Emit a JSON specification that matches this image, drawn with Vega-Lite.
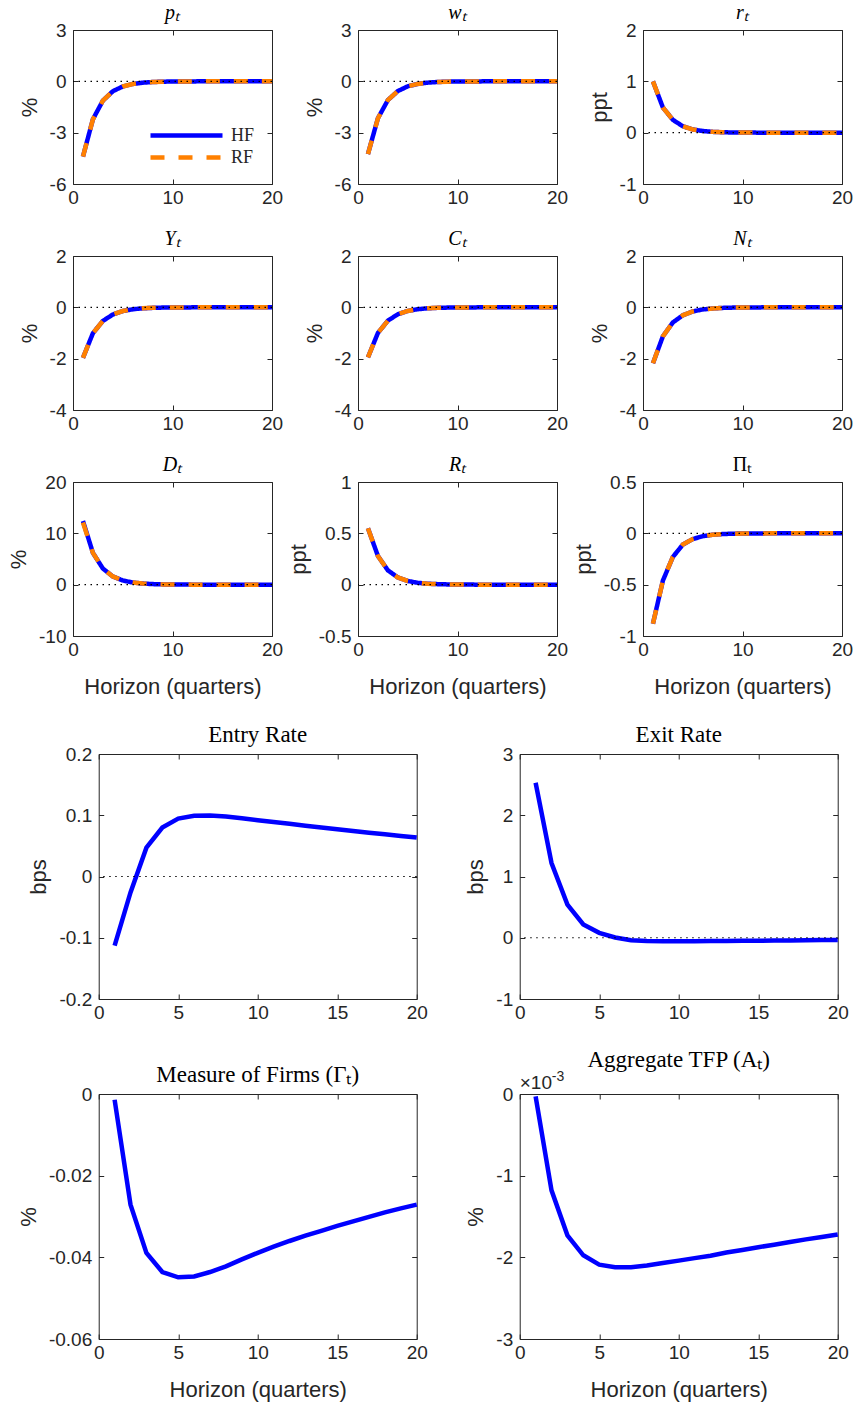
{
"$schema": "https://vega.github.io/schema/vega-lite/v6.json",
"background": "white",
"padding": {"left": 7, "top": 3, "right": 2, "bottom": 2},
"datasets": {"irf": [
{"v":"p","h":1,"HF":-4.4,"RF":-4.4},{"v":"p","h":2,"HF":-2.22,"RF":-2.22},{"v":"p","h":3,"HF":-1.13,"RF":-1.13},{"v":"p","h":4,"HF":-0.58,"RF":-0.58},{"v":"p","h":5,"HF":-0.3,"RF":-0.3},{"v":"p","h":6,"HF":-0.155,"RF":-0.155},{"v":"p","h":7,"HF":-0.08,"RF":-0.08},{"v":"p","h":8,"HF":-0.041,"RF":-0.041},{"v":"p","h":9,"HF":-0.021,"RF":-0.021},{"v":"p","h":10,"HF":-0.011,"RF":-0.011},{"v":"p","h":11,"HF":-0.006,"RF":-0.006},{"v":"p","h":12,"HF":-0.003,"RF":-0.003},{"v":"p","h":13,"HF":-0.0015,"RF":-0.0015},{"v":"p","h":14,"HF":-0.001,"RF":-0.001},{"v":"p","h":15,"HF":0,"RF":0},{"v":"p","h":16,"HF":0,"RF":0},{"v":"p","h":17,"HF":0,"RF":0},{"v":"p","h":18,"HF":0,"RF":0},{"v":"p","h":19,"HF":0,"RF":0},{"v":"p","h":20,"HF":0,"RF":0},
{"v":"w","h":1,"HF":-4.25,"RF":-4.25},{"v":"w","h":2,"HF":-2.16,"RF":-2.16},{"v":"w","h":3,"HF":-1.1,"RF":-1.1},{"v":"w","h":4,"HF":-0.57,"RF":-0.57},{"v":"w","h":5,"HF":-0.29,"RF":-0.29},{"v":"w","h":6,"HF":-0.15,"RF":-0.15},{"v":"w","h":7,"HF":-0.077,"RF":-0.077},{"v":"w","h":8,"HF":-0.04,"RF":-0.04},{"v":"w","h":9,"HF":-0.02,"RF":-0.02},{"v":"w","h":10,"HF":-0.01,"RF":-0.01},{"v":"w","h":11,"HF":-0.005,"RF":-0.005},{"v":"w","h":12,"HF":-0.003,"RF":-0.003},{"v":"w","h":13,"HF":-0.0015,"RF":-0.0015},{"v":"w","h":14,"HF":-0.001,"RF":-0.001},{"v":"w","h":15,"HF":0,"RF":0},{"v":"w","h":16,"HF":0,"RF":0},{"v":"w","h":17,"HF":0,"RF":0},{"v":"w","h":18,"HF":0,"RF":0},{"v":"w","h":19,"HF":0,"RF":0},{"v":"w","h":20,"HF":0,"RF":0},
{"v":"r","h":1,"HF":1.0,"RF":1.0},{"v":"r","h":2,"HF":0.49,"RF":0.49},{"v":"r","h":3,"HF":0.25,"RF":0.25},{"v":"r","h":4,"HF":0.125,"RF":0.125},{"v":"r","h":5,"HF":0.063,"RF":0.063},{"v":"r","h":6,"HF":0.032,"RF":0.032},{"v":"r","h":7,"HF":0.016,"RF":0.016},{"v":"r","h":8,"HF":0.008,"RF":0.008},{"v":"r","h":9,"HF":0.004,"RF":0.004},{"v":"r","h":10,"HF":0.002,"RF":0.002},{"v":"r","h":11,"HF":0.001,"RF":0.001},{"v":"r","h":12,"HF":0.0005,"RF":0.0005},{"v":"r","h":13,"HF":0,"RF":0},{"v":"r","h":14,"HF":0,"RF":0},{"v":"r","h":15,"HF":0,"RF":0},{"v":"r","h":16,"HF":0,"RF":0},{"v":"r","h":17,"HF":0,"RF":0},{"v":"r","h":18,"HF":0,"RF":0},{"v":"r","h":19,"HF":0,"RF":0},{"v":"r","h":20,"HF":0,"RF":0},
{"v":"Y","h":1,"HF":-1.97,"RF":-1.97},{"v":"Y","h":2,"HF":-1.01,"RF":-1.01},{"v":"Y","h":3,"HF":-0.53,"RF":-0.53},{"v":"Y","h":4,"HF":-0.28,"RF":-0.28},{"v":"Y","h":5,"HF":-0.145,"RF":-0.145},{"v":"Y","h":6,"HF":-0.075,"RF":-0.075},{"v":"Y","h":7,"HF":-0.039,"RF":-0.039},{"v":"Y","h":8,"HF":-0.02,"RF":-0.02},{"v":"Y","h":9,"HF":-0.01,"RF":-0.01},{"v":"Y","h":10,"HF":-0.005,"RF":-0.005},{"v":"Y","h":11,"HF":-0.003,"RF":-0.003},{"v":"Y","h":12,"HF":-0.0015,"RF":-0.0015},{"v":"Y","h":13,"HF":-0.001,"RF":-0.001},{"v":"Y","h":14,"HF":0,"RF":0},{"v":"Y","h":15,"HF":0,"RF":0},{"v":"Y","h":16,"HF":0,"RF":0},{"v":"Y","h":17,"HF":0,"RF":0},{"v":"Y","h":18,"HF":0,"RF":0},{"v":"Y","h":19,"HF":0,"RF":0},{"v":"Y","h":20,"HF":0,"RF":0},
{"v":"C","h":1,"HF":-1.95,"RF":-1.95},{"v":"C","h":2,"HF":-1.0,"RF":-1.0},{"v":"C","h":3,"HF":-0.52,"RF":-0.52},{"v":"C","h":4,"HF":-0.27,"RF":-0.27},{"v":"C","h":5,"HF":-0.14,"RF":-0.14},{"v":"C","h":6,"HF":-0.073,"RF":-0.073},{"v":"C","h":7,"HF":-0.038,"RF":-0.038},{"v":"C","h":8,"HF":-0.02,"RF":-0.02},{"v":"C","h":9,"HF":-0.01,"RF":-0.01},{"v":"C","h":10,"HF":-0.005,"RF":-0.005},{"v":"C","h":11,"HF":-0.003,"RF":-0.003},{"v":"C","h":12,"HF":-0.0015,"RF":-0.0015},{"v":"C","h":13,"HF":-0.001,"RF":-0.001},{"v":"C","h":14,"HF":0,"RF":0},{"v":"C","h":15,"HF":0,"RF":0},{"v":"C","h":16,"HF":0,"RF":0},{"v":"C","h":17,"HF":0,"RF":0},{"v":"C","h":18,"HF":0,"RF":0},{"v":"C","h":19,"HF":0,"RF":0},{"v":"C","h":20,"HF":0,"RF":0},
{"v":"N","h":1,"HF":-2.18,"RF":-2.18},{"v":"N","h":2,"HF":-1.13,"RF":-1.13},{"v":"N","h":3,"HF":-0.59,"RF":-0.59},{"v":"N","h":4,"HF":-0.31,"RF":-0.31},{"v":"N","h":5,"HF":-0.16,"RF":-0.16},{"v":"N","h":6,"HF":-0.083,"RF":-0.083},{"v":"N","h":7,"HF":-0.043,"RF":-0.043},{"v":"N","h":8,"HF":-0.022,"RF":-0.022},{"v":"N","h":9,"HF":-0.011,"RF":-0.011},{"v":"N","h":10,"HF":-0.006,"RF":-0.006},{"v":"N","h":11,"HF":-0.003,"RF":-0.003},{"v":"N","h":12,"HF":-0.0015,"RF":-0.0015},{"v":"N","h":13,"HF":-0.001,"RF":-0.001},{"v":"N","h":14,"HF":0,"RF":0},{"v":"N","h":15,"HF":0,"RF":0},{"v":"N","h":16,"HF":0,"RF":0},{"v":"N","h":17,"HF":0,"RF":0},{"v":"N","h":18,"HF":0,"RF":0},{"v":"N","h":19,"HF":0,"RF":0},{"v":"N","h":20,"HF":0,"RF":0},
{"v":"D","h":1,"HF":12.4,"RF":12.1},{"v":"D","h":2,"HF":6.2,"RF":6.2},{"v":"D","h":3,"HF":3.15,"RF":3.15},{"v":"D","h":4,"HF":1.6,"RF":1.6},{"v":"D","h":5,"HF":0.82,"RF":0.82},{"v":"D","h":6,"HF":0.42,"RF":0.42},{"v":"D","h":7,"HF":0.21,"RF":0.21},{"v":"D","h":8,"HF":0.11,"RF":0.11},{"v":"D","h":9,"HF":0.055,"RF":0.055},{"v":"D","h":10,"HF":0.028,"RF":0.028},{"v":"D","h":11,"HF":0.014,"RF":0.014},{"v":"D","h":12,"HF":0.007,"RF":0.007},{"v":"D","h":13,"HF":0.003,"RF":0.003},{"v":"D","h":14,"HF":0,"RF":0},{"v":"D","h":15,"HF":0,"RF":0},{"v":"D","h":16,"HF":0,"RF":0},{"v":"D","h":17,"HF":0,"RF":0},{"v":"D","h":18,"HF":0,"RF":0},{"v":"D","h":19,"HF":0,"RF":0},{"v":"D","h":20,"HF":0,"RF":0},
{"v":"R","h":1,"HF":0.55,"RF":0.55},{"v":"R","h":2,"HF":0.28,"RF":0.28},{"v":"R","h":3,"HF":0.14,"RF":0.14},{"v":"R","h":4,"HF":0.07,"RF":0.07},{"v":"R","h":5,"HF":0.036,"RF":0.036},{"v":"R","h":6,"HF":0.018,"RF":0.018},{"v":"R","h":7,"HF":0.009,"RF":0.009},{"v":"R","h":8,"HF":0.005,"RF":0.005},{"v":"R","h":9,"HF":0.0025,"RF":0.0025},{"v":"R","h":10,"HF":0.0012,"RF":0.0012},{"v":"R","h":11,"HF":0.0006,"RF":0.0006},{"v":"R","h":12,"HF":0.0003,"RF":0.0003},{"v":"R","h":13,"HF":0,"RF":0},{"v":"R","h":14,"HF":0,"RF":0},{"v":"R","h":15,"HF":0,"RF":0},{"v":"R","h":16,"HF":0,"RF":0},{"v":"R","h":17,"HF":0,"RF":0},{"v":"R","h":18,"HF":0,"RF":0},{"v":"R","h":19,"HF":0,"RF":0},{"v":"R","h":20,"HF":0,"RF":0},
{"v":"Pi","h":1,"HF":-0.88,"RF":-0.88},{"v":"Pi","h":2,"HF":-0.46,"RF":-0.46},{"v":"Pi","h":3,"HF":-0.23,"RF":-0.23},{"v":"Pi","h":4,"HF":-0.11,"RF":-0.11},{"v":"Pi","h":5,"HF":-0.056,"RF":-0.056},{"v":"Pi","h":6,"HF":-0.028,"RF":-0.028},{"v":"Pi","h":7,"HF":-0.014,"RF":-0.014},{"v":"Pi","h":8,"HF":-0.007,"RF":-0.007},{"v":"Pi","h":9,"HF":-0.0035,"RF":-0.0035},{"v":"Pi","h":10,"HF":-0.002,"RF":-0.002},{"v":"Pi","h":11,"HF":-0.001,"RF":-0.001},{"v":"Pi","h":12,"HF":-0.0005,"RF":-0.0005},{"v":"Pi","h":13,"HF":0,"RF":0},{"v":"Pi","h":14,"HF":0,"RF":0},{"v":"Pi","h":15,"HF":0,"RF":0},{"v":"Pi","h":16,"HF":0,"RF":0},{"v":"Pi","h":17,"HF":0,"RF":0},{"v":"Pi","h":18,"HF":0,"RF":0},{"v":"Pi","h":19,"HF":0,"RF":0},{"v":"Pi","h":20,"HF":0,"RF":0},
{"v":"entry","h":1,"HF":-0.113},{"v":"entry","h":2,"HF":-0.026},{"v":"entry","h":3,"HF":0.047},{"v":"entry","h":4,"HF":0.08},{"v":"entry","h":5,"HF":0.0946},{"v":"entry","h":6,"HF":0.099},{"v":"entry","h":7,"HF":0.0995},{"v":"entry","h":8,"HF":0.098},{"v":"entry","h":9,"HF":0.0952},{"v":"entry","h":10,"HF":0.092},{"v":"entry","h":11,"HF":0.089},{"v":"entry","h":12,"HF":0.086},{"v":"entry","h":13,"HF":0.083},{"v":"entry","h":14,"HF":0.0801},{"v":"entry","h":15,"HF":0.0773},{"v":"entry","h":16,"HF":0.0744},{"v":"entry","h":17,"HF":0.0716},{"v":"entry","h":18,"HF":0.0689},{"v":"entry","h":19,"HF":0.0662},{"v":"entry","h":20,"HF":0.0636},
{"v":"exit","h":1,"HF":2.53},{"v":"exit","h":2,"HF":1.22},{"v":"exit","h":3,"HF":0.54},{"v":"exit","h":4,"HF":0.216},{"v":"exit","h":5,"HF":0.08},{"v":"exit","h":6,"HF":0.005},{"v":"exit","h":7,"HF":-0.04},{"v":"exit","h":8,"HF":-0.055},{"v":"exit","h":9,"HF":-0.058},{"v":"exit","h":10,"HF":-0.058},{"v":"exit","h":11,"HF":-0.057},{"v":"exit","h":12,"HF":-0.055},{"v":"exit","h":13,"HF":-0.053},{"v":"exit","h":14,"HF":-0.051},{"v":"exit","h":15,"HF":-0.049},{"v":"exit","h":16,"HF":-0.046},{"v":"exit","h":17,"HF":-0.044},{"v":"exit","h":18,"HF":-0.041},{"v":"exit","h":19,"HF":-0.038},{"v":"exit","h":20,"HF":-0.035},
{"v":"firms","h":1,"HF":-0.0014},{"v":"firms","h":2,"HF":-0.0271},{"v":"firms","h":3,"HF":-0.0389},{"v":"firms","h":4,"HF":-0.0436},{"v":"firms","h":5,"HF":-0.0449},{"v":"firms","h":6,"HF":-0.0447},{"v":"firms","h":7,"HF":-0.0436},{"v":"firms","h":8,"HF":-0.0422},{"v":"firms","h":9,"HF":-0.0405},{"v":"firms","h":10,"HF":-0.0389},{"v":"firms","h":11,"HF":-0.0374},{"v":"firms","h":12,"HF":-0.036},{"v":"firms","h":13,"HF":-0.0347},{"v":"firms","h":14,"HF":-0.0335},{"v":"firms","h":15,"HF":-0.0323},{"v":"firms","h":16,"HF":-0.0312},{"v":"firms","h":17,"HF":-0.0301},{"v":"firms","h":18,"HF":-0.029},{"v":"firms","h":19,"HF":-0.028},{"v":"firms","h":20,"HF":-0.0271},
{"v":"tfp","h":1,"HF":-0.03},{"v":"tfp","h":2,"HF":-1.18},{"v":"tfp","h":3,"HF":-1.73},{"v":"tfp","h":4,"HF":-1.975},{"v":"tfp","h":5,"HF":-2.09},{"v":"tfp","h":6,"HF":-2.12},{"v":"tfp","h":7,"HF":-2.12},{"v":"tfp","h":8,"HF":-2.1},{"v":"tfp","h":9,"HF":-2.07},{"v":"tfp","h":10,"HF":-2.04},{"v":"tfp","h":11,"HF":-2.01},{"v":"tfp","h":12,"HF":-1.98},{"v":"tfp","h":13,"HF":-1.94},{"v":"tfp","h":14,"HF":-1.91},{"v":"tfp","h":15,"HF":-1.876},{"v":"tfp","h":16,"HF":-1.845},{"v":"tfp","h":17,"HF":-1.813},{"v":"tfp","h":18,"HF":-1.78},{"v":"tfp","h":19,"HF":-1.75},{"v":"tfp","h":20,"HF":-1.72}
]},
"spacing": 27,
"center": true,
"resolve": {"scale": {"color": "independent", "strokeDash": "independent"}, "legend": {"color": "independent", "strokeDash": "independent"}},
"vconcat": [
{
"columns": 3,
"spacing": {"row": 22, "column": 4},
"align": {"row": "each", "column": "each"},
"resolve": {"scale": {"color": "independent", "strokeDash": "independent"}, "legend": {"color": "independent", "strokeDash": "independent"}},
"concat": [
{"width": 199, "height": 154, "title": {"text": "pₜ"}, "data": {"name": "irf"},
 "transform": [{"filter": "datum.v === 'p'"}, {"fold": ["HF", "RF"], "as": ["s", "val"]}],
 "layer": [
  {"mark": {"type": "line", "strokeWidth": 4.5, "strokeCap": "butt"},
   "encoding": {
    "x": {"field": "h", "type": "quantitative", "scale": {"domain": [0, 20], "nice": false}, "axis": {"values": [0, 10, 20], "title": null}},
    "y": {"field": "val", "type": "quantitative", "scale": {"domain": [-6, 3], "nice": false}, "axis": {"values": [-6, -3, 0, 3], "title": "%"}},
    "color": {"field": "s", "type": "nominal", "scale": {"domain": ["HF", "RF"], "range": ["#0000ff", "#ff8000"]},
      "legend": {"orient": "bottom-right", "title": null, "symbolType": "M-1,0H6.2", "symbolSize": 400, "symbolStrokeWidth": 4.5, "labelFont": "Liberation Serif", "labelFontSize": 18, "labelColor": "#262626", "offset": 17, "padding": 0, "labelOffset": 58, "rowPadding": 0}},
    "strokeDash": {"field": "s", "type": "nominal", "scale": {"domain": ["HF", "RF"], "range": [[1, 0], [14, 14]]},
      "legend": {"orient": "bottom-right", "title": null, "symbolType": "M-1,0H6.2", "symbolSize": 400, "symbolStrokeWidth": 4.5, "labelFont": "Liberation Serif", "labelFontSize": 18, "labelColor": "#262626", "offset": 17, "padding": 0, "labelOffset": 58, "rowPadding": 0}}
   }},
  {"data": {"values": [{}]}, "mark": {"type": "rule", "color": "#000000", "strokeWidth": 1.2, "strokeDash": [1.5, 4.5]}, "encoding": {"y": {"datum": 0, "axis": null}}},
  {"mark": {"type": "line", "opacity": 0},
   "encoding": {
    "x": {"field": "h", "type": "quantitative", "scale": {"domain": [0, 20], "nice": false}, "axis": {"orient": "top", "values": [0, 10, 20], "labels": false, "title": null}},
    "y": {"field": "val", "type": "quantitative", "scale": {"domain": [-6, 3], "nice": false}, "axis": {"orient": "right", "values": [-6, -3, 0, 3], "labels": false, "title": null}}
   }}
 ],
 "resolve": {"axis": {"x": "independent", "y": "independent"}}
},
{"width": 199, "height": 154, "title": {"text": "wₜ"}, "data": {"name": "irf"},
 "transform": [{"filter": "datum.v === 'w'"}, {"fold": ["HF", "RF"], "as": ["s", "val"]}],
 "layer": [
  {"mark": {"type": "line", "strokeWidth": 4.5, "strokeCap": "butt"},
   "encoding": {
    "x": {"field": "h", "type": "quantitative", "scale": {"domain": [0, 20], "nice": false}, "axis": {"values": [0, 10, 20], "title": null}},
    "y": {"field": "val", "type": "quantitative", "scale": {"domain": [-6, 3], "nice": false}, "axis": {"values": [-6, -3, 0, 3], "title": "%"}},
    "color": {"field": "s", "type": "nominal", "scale": {"domain": ["HF", "RF"], "range": ["#0000ff", "#ff8000"]}, "legend": null},
    "strokeDash": {"field": "s", "type": "nominal", "scale": {"domain": ["HF", "RF"], "range": [[1, 0], [14, 14]]}, "legend": null}
   }},
  {"data": {"values": [{}]}, "mark": {"type": "rule", "color": "#000000", "strokeWidth": 1.2, "strokeDash": [1.5, 4.5]}, "encoding": {"y": {"datum": 0, "axis": null}}},
  {"mark": {"type": "line", "opacity": 0},
   "encoding": {
    "x": {"field": "h", "type": "quantitative", "scale": {"domain": [0, 20], "nice": false}, "axis": {"orient": "top", "values": [0, 10, 20], "labels": false, "title": null}},
    "y": {"field": "val", "type": "quantitative", "scale": {"domain": [-6, 3], "nice": false}, "axis": {"orient": "right", "values": [-6, -3, 0, 3], "labels": false, "title": null}}
   }}
 ],
 "resolve": {"axis": {"x": "independent", "y": "independent"}}
},
{"width": 199, "height": 154, "title": {"text": "rₜ"}, "data": {"name": "irf"},
 "transform": [{"filter": "datum.v === 'r'"}, {"fold": ["HF", "RF"], "as": ["s", "val"]}],
 "layer": [
  {"mark": {"type": "line", "strokeWidth": 4.5, "strokeCap": "butt"},
   "encoding": {
    "x": {"field": "h", "type": "quantitative", "scale": {"domain": [0, 20], "nice": false}, "axis": {"values": [0, 10, 20], "title": null}},
    "y": {"field": "val", "type": "quantitative", "scale": {"domain": [-1, 2], "nice": false}, "axis": {"values": [-1, 0, 1, 2], "title": "ppt"}},
    "color": {"field": "s", "type": "nominal", "scale": {"domain": ["HF", "RF"], "range": ["#0000ff", "#ff8000"]}, "legend": null},
    "strokeDash": {"field": "s", "type": "nominal", "scale": {"domain": ["HF", "RF"], "range": [[1, 0], [14, 14]]}, "legend": null}
   }},
  {"data": {"values": [{}]}, "mark": {"type": "rule", "color": "#000000", "strokeWidth": 1.2, "strokeDash": [1.5, 4.5]}, "encoding": {"y": {"datum": 0, "axis": null}}},
  {"mark": {"type": "line", "opacity": 0},
   "encoding": {
    "x": {"field": "h", "type": "quantitative", "scale": {"domain": [0, 20], "nice": false}, "axis": {"orient": "top", "values": [0, 10, 20], "labels": false, "title": null}},
    "y": {"field": "val", "type": "quantitative", "scale": {"domain": [-1, 2], "nice": false}, "axis": {"orient": "right", "values": [-1, 0, 1, 2], "labels": false, "title": null, "minExtent": 32}}
   }}
 ],
 "resolve": {"axis": {"x": "independent", "y": "independent"}}
},
{"width": 199, "height": 154, "title": {"text": "Yₜ"}, "data": {"name": "irf"},
 "transform": [{"filter": "datum.v === 'Y'"}, {"fold": ["HF", "RF"], "as": ["s", "val"]}],
 "layer": [
  {"mark": {"type": "line", "strokeWidth": 4.5, "strokeCap": "butt"},
   "encoding": {
    "x": {"field": "h", "type": "quantitative", "scale": {"domain": [0, 20], "nice": false}, "axis": {"values": [0, 10, 20], "title": null}},
    "y": {"field": "val", "type": "quantitative", "scale": {"domain": [-4, 2], "nice": false}, "axis": {"values": [-4, -2, 0, 2], "title": "%"}},
    "color": {"field": "s", "type": "nominal", "scale": {"domain": ["HF", "RF"], "range": ["#0000ff", "#ff8000"]}, "legend": null},
    "strokeDash": {"field": "s", "type": "nominal", "scale": {"domain": ["HF", "RF"], "range": [[1, 0], [14, 14]]}, "legend": null}
   }},
  {"data": {"values": [{}]}, "mark": {"type": "rule", "color": "#000000", "strokeWidth": 1.2, "strokeDash": [1.5, 4.5]}, "encoding": {"y": {"datum": 0, "axis": null}}},
  {"mark": {"type": "line", "opacity": 0},
   "encoding": {
    "x": {"field": "h", "type": "quantitative", "scale": {"domain": [0, 20], "nice": false}, "axis": {"orient": "top", "values": [0, 10, 20], "labels": false, "title": null}},
    "y": {"field": "val", "type": "quantitative", "scale": {"domain": [-4, 2], "nice": false}, "axis": {"orient": "right", "values": [-4, -2, 0, 2], "labels": false, "title": null}}
   }}
 ],
 "resolve": {"axis": {"x": "independent", "y": "independent"}}
},
{"width": 199, "height": 154, "title": {"text": "Cₜ"}, "data": {"name": "irf"},
 "transform": [{"filter": "datum.v === 'C'"}, {"fold": ["HF", "RF"], "as": ["s", "val"]}],
 "layer": [
  {"mark": {"type": "line", "strokeWidth": 4.5, "strokeCap": "butt"},
   "encoding": {
    "x": {"field": "h", "type": "quantitative", "scale": {"domain": [0, 20], "nice": false}, "axis": {"values": [0, 10, 20], "title": null}},
    "y": {"field": "val", "type": "quantitative", "scale": {"domain": [-4, 2], "nice": false}, "axis": {"values": [-4, -2, 0, 2], "title": "%"}},
    "color": {"field": "s", "type": "nominal", "scale": {"domain": ["HF", "RF"], "range": ["#0000ff", "#ff8000"]}, "legend": null},
    "strokeDash": {"field": "s", "type": "nominal", "scale": {"domain": ["HF", "RF"], "range": [[1, 0], [14, 14]]}, "legend": null}
   }},
  {"data": {"values": [{}]}, "mark": {"type": "rule", "color": "#000000", "strokeWidth": 1.2, "strokeDash": [1.5, 4.5]}, "encoding": {"y": {"datum": 0, "axis": null}}},
  {"mark": {"type": "line", "opacity": 0},
   "encoding": {
    "x": {"field": "h", "type": "quantitative", "scale": {"domain": [0, 20], "nice": false}, "axis": {"orient": "top", "values": [0, 10, 20], "labels": false, "title": null}},
    "y": {"field": "val", "type": "quantitative", "scale": {"domain": [-4, 2], "nice": false}, "axis": {"orient": "right", "values": [-4, -2, 0, 2], "labels": false, "title": null}}
   }}
 ],
 "resolve": {"axis": {"x": "independent", "y": "independent"}}
},
{"width": 199, "height": 154, "title": {"text": "Nₜ"}, "data": {"name": "irf"},
 "transform": [{"filter": "datum.v === 'N'"}, {"fold": ["HF", "RF"], "as": ["s", "val"]}],
 "layer": [
  {"mark": {"type": "line", "strokeWidth": 4.5, "strokeCap": "butt"},
   "encoding": {
    "x": {"field": "h", "type": "quantitative", "scale": {"domain": [0, 20], "nice": false}, "axis": {"values": [0, 10, 20], "title": null}},
    "y": {"field": "val", "type": "quantitative", "scale": {"domain": [-4, 2], "nice": false}, "axis": {"values": [-4, -2, 0, 2], "title": "%"}},
    "color": {"field": "s", "type": "nominal", "scale": {"domain": ["HF", "RF"], "range": ["#0000ff", "#ff8000"]}, "legend": null},
    "strokeDash": {"field": "s", "type": "nominal", "scale": {"domain": ["HF", "RF"], "range": [[1, 0], [14, 14]]}, "legend": null}
   }},
  {"data": {"values": [{}]}, "mark": {"type": "rule", "color": "#000000", "strokeWidth": 1.2, "strokeDash": [1.5, 4.5]}, "encoding": {"y": {"datum": 0, "axis": null}}},
  {"mark": {"type": "line", "opacity": 0},
   "encoding": {
    "x": {"field": "h", "type": "quantitative", "scale": {"domain": [0, 20], "nice": false}, "axis": {"orient": "top", "values": [0, 10, 20], "labels": false, "title": null}},
    "y": {"field": "val", "type": "quantitative", "scale": {"domain": [-4, 2], "nice": false}, "axis": {"orient": "right", "values": [-4, -2, 0, 2], "labels": false, "title": null, "minExtent": 32}}
   }}
 ],
 "resolve": {"axis": {"x": "independent", "y": "independent"}}
},
{"width": 199, "height": 154, "title": {"text": "Dₜ"}, "data": {"name": "irf"},
 "transform": [{"filter": "datum.v === 'D'"}, {"fold": ["HF", "RF"], "as": ["s", "val"]}],
 "layer": [
  {"mark": {"type": "line", "strokeWidth": 4.5, "strokeCap": "butt"},
   "encoding": {
    "x": {"field": "h", "type": "quantitative", "scale": {"domain": [0, 20], "nice": false}, "axis": {"values": [0, 10, 20], "title": "Horizon (quarters)"}},
    "y": {"field": "val", "type": "quantitative", "scale": {"domain": [-10, 20], "nice": false}, "axis": {"values": [-10, 0, 10, 20], "title": "%"}},
    "color": {"field": "s", "type": "nominal", "scale": {"domain": ["HF", "RF"], "range": ["#0000ff", "#ff8000"]}, "legend": null},
    "strokeDash": {"field": "s", "type": "nominal", "scale": {"domain": ["HF", "RF"], "range": [[1, 0], [14, 14]]}, "legend": null}
   }},
  {"data": {"values": [{}]}, "mark": {"type": "rule", "color": "#000000", "strokeWidth": 1.2, "strokeDash": [1.5, 4.5]}, "encoding": {"y": {"datum": 0, "axis": null}}},
  {"mark": {"type": "line", "opacity": 0},
   "encoding": {
    "x": {"field": "h", "type": "quantitative", "scale": {"domain": [0, 20], "nice": false}, "axis": {"orient": "top", "values": [0, 10, 20], "labels": false, "title": null}},
    "y": {"field": "val", "type": "quantitative", "scale": {"domain": [-10, 20], "nice": false}, "axis": {"orient": "right", "values": [-10, 0, 10, 20], "labels": false, "title": null}}
   }}
 ],
 "resolve": {"axis": {"x": "independent", "y": "independent"}}
},
{"width": 199, "height": 154, "title": {"text": "Rₜ"}, "data": {"name": "irf"},
 "transform": [{"filter": "datum.v === 'R'"}, {"fold": ["HF", "RF"], "as": ["s", "val"]}],
 "layer": [
  {"mark": {"type": "line", "strokeWidth": 4.5, "strokeCap": "butt"},
   "encoding": {
    "x": {"field": "h", "type": "quantitative", "scale": {"domain": [0, 20], "nice": false}, "axis": {"values": [0, 10, 20], "title": "Horizon (quarters)"}},
    "y": {"field": "val", "type": "quantitative", "scale": {"domain": [-0.5, 1], "nice": false}, "axis": {"values": [-0.5, 0, 0.5, 1], "title": "ppt"}},
    "color": {"field": "s", "type": "nominal", "scale": {"domain": ["HF", "RF"], "range": ["#0000ff", "#ff8000"]}, "legend": null},
    "strokeDash": {"field": "s", "type": "nominal", "scale": {"domain": ["HF", "RF"], "range": [[1, 0], [14, 14]]}, "legend": null}
   }},
  {"data": {"values": [{}]}, "mark": {"type": "rule", "color": "#000000", "strokeWidth": 1.2, "strokeDash": [1.5, 4.5]}, "encoding": {"y": {"datum": 0, "axis": null}}},
  {"mark": {"type": "line", "opacity": 0},
   "encoding": {
    "x": {"field": "h", "type": "quantitative", "scale": {"domain": [0, 20], "nice": false}, "axis": {"orient": "top", "values": [0, 10, 20], "labels": false, "title": null}},
    "y": {"field": "val", "type": "quantitative", "scale": {"domain": [-0.5, 1], "nice": false}, "axis": {"orient": "right", "values": [-0.5, 0, 0.5, 1], "labels": false, "title": null}}
   }}
 ],
 "resolve": {"axis": {"x": "independent", "y": "independent"}}
},
{"width": 199, "height": 154, "title": {"text": "Πₜ", "fontStyle": "normal"}, "data": {"name": "irf"},
 "transform": [{"filter": "datum.v === 'Pi'"}, {"fold": ["HF", "RF"], "as": ["s", "val"]}],
 "layer": [
  {"mark": {"type": "line", "strokeWidth": 4.5, "strokeCap": "butt"},
   "encoding": {
    "x": {"field": "h", "type": "quantitative", "scale": {"domain": [0, 20], "nice": false}, "axis": {"values": [0, 10, 20], "title": "Horizon (quarters)"}},
    "y": {"field": "val", "type": "quantitative", "scale": {"domain": [-1, 0.5], "nice": false}, "axis": {"values": [-1, -0.5, 0, 0.5], "title": "ppt"}},
    "color": {"field": "s", "type": "nominal", "scale": {"domain": ["HF", "RF"], "range": ["#0000ff", "#ff8000"]}, "legend": null},
    "strokeDash": {"field": "s", "type": "nominal", "scale": {"domain": ["HF", "RF"], "range": [[1, 0], [14, 14]]}, "legend": null}
   }},
  {"data": {"values": [{}]}, "mark": {"type": "rule", "color": "#000000", "strokeWidth": 1.2, "strokeDash": [1.5, 4.5]}, "encoding": {"y": {"datum": 0, "axis": null}}},
  {"mark": {"type": "line", "opacity": 0},
   "encoding": {
    "x": {"field": "h", "type": "quantitative", "scale": {"domain": [0, 20], "nice": false}, "axis": {"orient": "top", "values": [0, 10, 20], "labels": false, "title": null}},
    "y": {"field": "val", "type": "quantitative", "scale": {"domain": [-1, 0.5], "nice": false}, "axis": {"orient": "right", "values": [-1, -0.5, 0, 0.5], "labels": false, "title": null, "minExtent": 32}}
   }}
 ],
 "resolve": {"axis": {"x": "independent", "y": "independent"}}
}
]
},
{
"columns": 2,
"spacing": {"row": 27, "column": 37},
"align": {"row": "each", "column": "each"},
"concat": [
{"width": 318, "height": 245, "title": {"text": "Entry Rate", "fontStyle": "normal", "fontSize": 23}, "data": {"name": "irf"},
 "transform": [{"filter": "datum.v === 'entry'"}],
 "layer": [
  {"mark": {"type": "line", "color": "#0000ff", "strokeWidth": 4.5},
   "encoding": {
    "x": {"field": "h", "type": "quantitative", "scale": {"domain": [0, 20], "nice": false}, "axis": {"values": [0, 5, 10, 15, 20], "title": null}},
    "y": {"field": "HF", "type": "quantitative", "scale": {"domain": [-0.2, 0.2], "nice": false}, "axis": {"values": [-0.2, -0.1, 0, 0.1, 0.2], "title": "bps"}}
   }},
  {"data": {"values": [{}]}, "mark": {"type": "rule", "color": "#000000", "strokeWidth": 1.2, "strokeDash": [1.5, 4.5]}, "encoding": {"y": {"datum": 0, "axis": null}}},
  {"mark": {"type": "line", "opacity": 0},
   "encoding": {
    "x": {"field": "h", "type": "quantitative", "scale": {"domain": [0, 20], "nice": false}, "axis": {"orient": "top", "values": [0, 5, 10, 15, 20], "labels": false, "title": null}},
    "y": {"field": "HF", "type": "quantitative", "scale": {"domain": [-0.2, 0.2], "nice": false}, "axis": {"orient": "right", "values": [-0.2, -0.1, 0, 0.1, 0.2], "labels": false, "title": null}}
   }}
 ],
 "resolve": {"axis": {"x": "independent", "y": "independent"}}
},
{"width": 318, "height": 245, "title": {"text": "Exit Rate", "fontStyle": "normal", "fontSize": 23}, "data": {"name": "irf"},
 "transform": [{"filter": "datum.v === 'exit'"}],
 "layer": [
  {"mark": {"type": "line", "color": "#0000ff", "strokeWidth": 4.5},
   "encoding": {
    "x": {"field": "h", "type": "quantitative", "scale": {"domain": [0, 20], "nice": false}, "axis": {"values": [0, 5, 10, 15, 20], "title": null}},
    "y": {"field": "HF", "type": "quantitative", "scale": {"domain": [-1, 3], "nice": false}, "axis": {"values": [-1, 0, 1, 2, 3], "title": "bps"}}
   }},
  {"data": {"values": [{}]}, "mark": {"type": "rule", "color": "#000000", "strokeWidth": 1.2, "strokeDash": [1.5, 4.5]}, "encoding": {"y": {"datum": 0, "axis": null}}},
  {"mark": {"type": "line", "opacity": 0},
   "encoding": {
    "x": {"field": "h", "type": "quantitative", "scale": {"domain": [0, 20], "nice": false}, "axis": {"orient": "top", "values": [0, 5, 10, 15, 20], "labels": false, "title": null}},
    "y": {"field": "HF", "type": "quantitative", "scale": {"domain": [-1, 3], "nice": false}, "axis": {"orient": "right", "values": [-1, 0, 1, 2, 3], "labels": false, "title": null}}
   }}
 ],
 "resolve": {"axis": {"x": "independent", "y": "independent"}}
},
{"width": 318, "height": 245, "title": {"text": "Measure of Firms (Γₜ)", "fontStyle": "normal", "fontSize": 23}, "data": {"name": "irf"},
 "transform": [{"filter": "datum.v === 'firms'"}],
 "layer": [
  {"mark": {"type": "line", "color": "#0000ff", "strokeWidth": 4.5},
   "encoding": {
    "x": {"field": "h", "type": "quantitative", "scale": {"domain": [0, 20], "nice": false}, "axis": {"values": [0, 5, 10, 15, 20], "title": "Horizon (quarters)"}},
    "y": {"field": "HF", "type": "quantitative", "scale": {"domain": [-0.06, 0], "nice": false}, "axis": {"values": [-0.06, -0.04, -0.02, 0], "title": "%"}}
   }},
  {"mark": {"type": "line", "opacity": 0},
   "encoding": {
    "x": {"field": "h", "type": "quantitative", "scale": {"domain": [0, 20], "nice": false}, "axis": {"orient": "top", "values": [0, 5, 10, 15, 20], "labels": false, "title": null}},
    "y": {"field": "HF", "type": "quantitative", "scale": {"domain": [-0.06, 0], "nice": false}, "axis": {"orient": "right", "values": [-0.06, -0.04, -0.02, 0], "labels": false, "title": null}}
   }}
 ],
 "resolve": {"axis": {"x": "independent", "y": "independent"}}
},
{"width": 318, "height": 245, "title": {"text": "Aggregate TFP (Aₜ)", "fontStyle": "normal", "fontSize": 23}, "data": {"name": "irf"},
 "transform": [{"filter": "datum.v === 'tfp'"}],
 "layer": [
  {"mark": {"type": "line", "color": "#0000ff", "strokeWidth": 4.5},
   "encoding": {
    "x": {"field": "h", "type": "quantitative", "scale": {"domain": [0, 20], "nice": false}, "axis": {"values": [0, 5, 10, 15, 20], "title": "Horizon (quarters)"}},
    "y": {"field": "HF", "type": "quantitative", "scale": {"domain": [-3, 0], "nice": false}, "axis": {"values": [-3, -2, -1, 0], "title": "%"}}
   }},
  {"mark": {"type": "line", "opacity": 0},
   "encoding": {
    "x": {"field": "h", "type": "quantitative", "scale": {"domain": [0, 20], "nice": false}, "axis": {"orient": "top", "values": [0, 5, 10, 15, 20], "labels": false, "title": null}},
    "y": {"field": "HF", "type": "quantitative", "scale": {"domain": [-3, 0], "nice": false}, "axis": {"orient": "right", "values": [-3, -2, -1, 0], "labels": false, "title": null}}
   }},
  {"data": {"values": [{}]}, "mark": {"type": "text", "align": "left", "baseline": "alphabetic", "dy": -5, "font": "Liberation Sans", "fontSize": 19, "color": "#262626"},
   "encoding": {"x": {"datum": 0, "axis": null}, "y": {"datum": 0, "axis": null}, "text": {"value": "×10"}}},
  {"data": {"values": [{}]}, "mark": {"type": "text", "align": "left", "baseline": "alphabetic", "dx": 32, "dy": -13, "font": "Liberation Sans", "fontSize": 14, "color": "#262626"},
   "encoding": {"x": {"datum": 0, "axis": null}, "y": {"datum": 0, "axis": null}, "text": {"value": "-3"}}}
 ],
 "resolve": {"axis": {"x": "independent", "y": "independent"}}
}
]
}
],
"config": {
 "view": {"stroke": null},
 "font": "Liberation Sans",
 "axis": {"grid": false, "domainColor": "#262626", "domainWidth": 1, "tickColor": "#262626", "tickSize": -5, "tickWidth": 1,
   "labelFont": "Liberation Sans", "labelFontSize": 19, "labelColor": "#262626", "labelPadding": 12, "labelFlush": false, "labelOverlap": false,
   "labelExpr": "'' + datum.value",
   "titleFont": "Liberation Sans", "titleFontSize": 22, "titleFontWeight": "normal", "titleColor": "#262626", "titlePadding": 8},
 "axisX": {"labelPadding": 9, "titlePadding": 17},
 "title": {"font": "Liberation Serif", "fontSize": 20, "fontWeight": "normal", "fontStyle": "italic", "color": "#000000", "offset": -2, "baseline": "alphabetic"}
}
}
